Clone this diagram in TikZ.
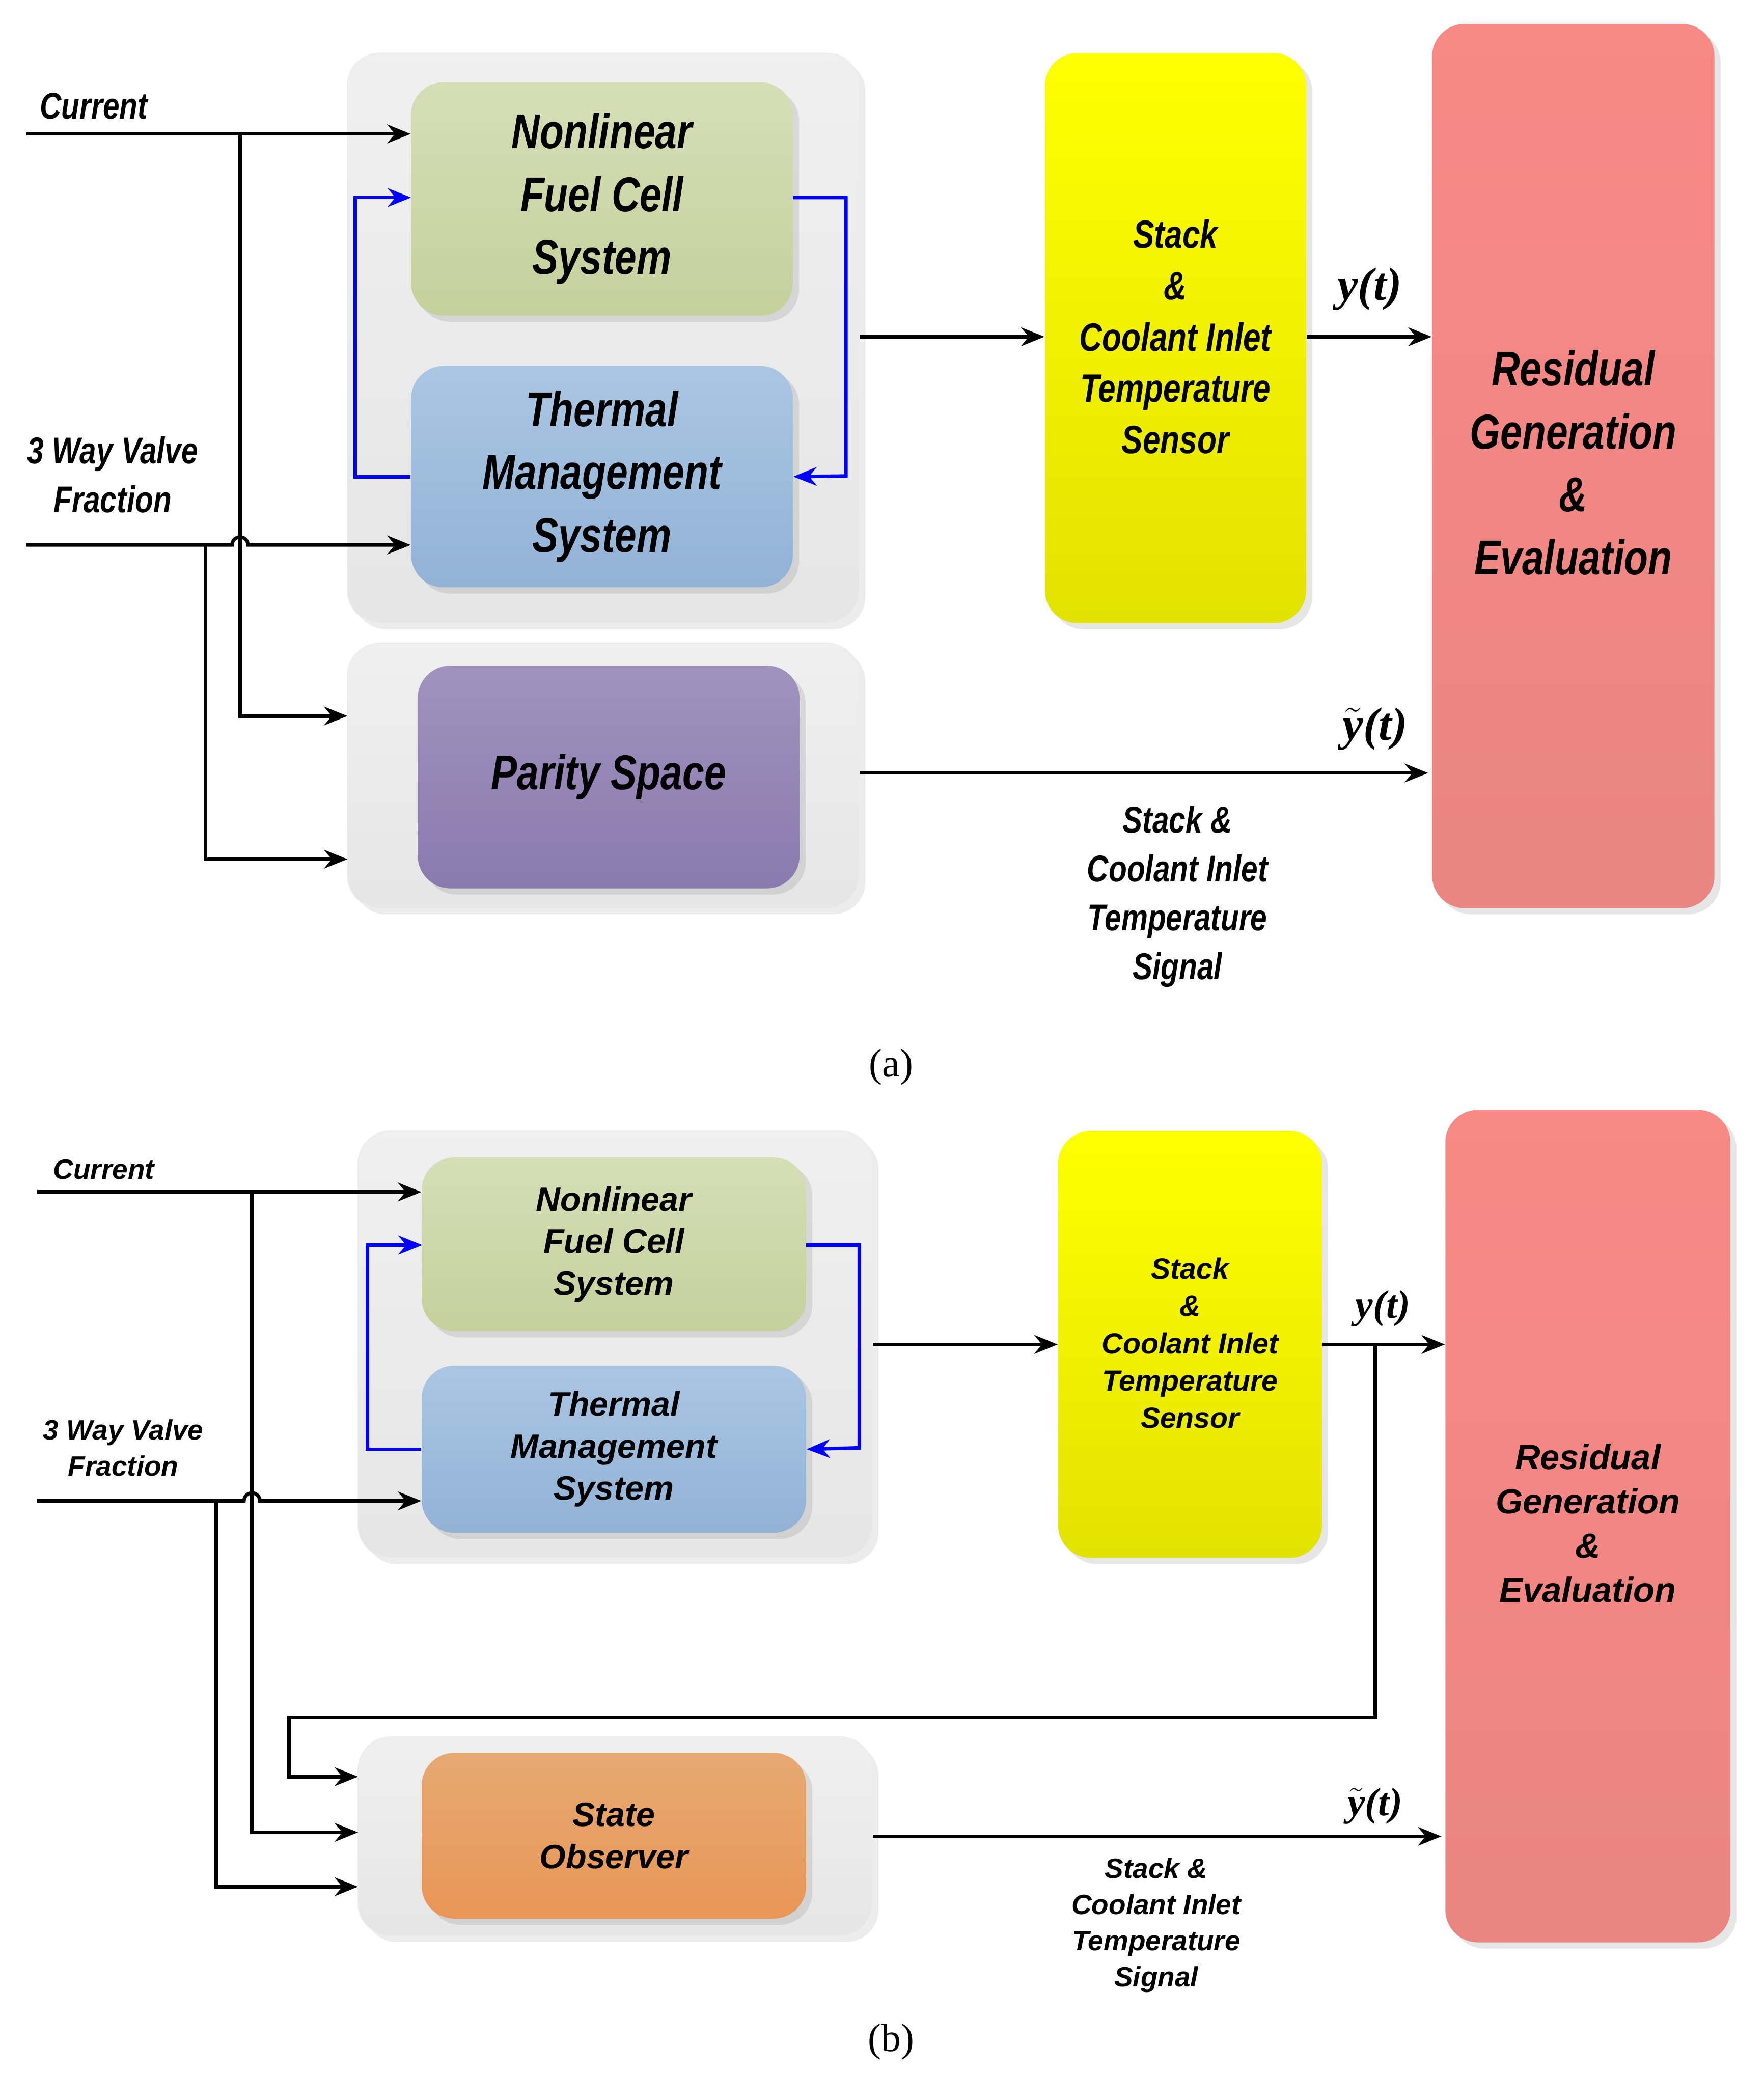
\documentclass[tikz,border=0pt]{standalone}
\usepackage{fontspec}
\setmainfont{Liberation Sans}
\newfontfamily\cond{Liberation Sans}[FakeStretch=0.8]
\newfontfamily\serifcap{Liberation Serif}
\usetikzlibrary{arrows.meta,shadows}
\definecolor{gT}{HTML}{D6DEB6}\definecolor{gB}{HTML}{C5D09C}
\definecolor{bT}{HTML}{AAC6E2}\definecolor{bB}{HTML}{92B2D6}
\definecolor{pT}{HTML}{A192BE}\definecolor{pB}{HTML}{8B7AAD}
\definecolor{oT}{HTML}{E6A972}\definecolor{oB}{HTML}{E99656}
\definecolor{rT}{HTML}{F88985}\definecolor{rB}{HTML}{EA8582}
\definecolor{yT}{HTML}{FFFF00}\definecolor{yB}{HTML}{E2E200}
\begin{document}
\begin{tikzpicture}[x=0.02cm,y=-0.02cm,
  cont/.style={rounded corners=14pt,draw=gray!15,top color=gray!12,bottom color=gray!20,drop shadow={opacity=0.15}},
  blk/.style={rounded corners=14pt,align=center,drop shadow={opacity=0.2}},
  ta/.style={font=\cond\bfseries\itshape\fontsize{21}{27}\selectfont},
  tb/.style={font=\bfseries\itshape\fontsize{14.5}{18}\selectfont},
  la/.style={font=\cond\bfseries\itshape\fontsize{16}{21}\selectfont,align=center},
  lb/.style={font=\bfseries\itshape\fontsize{12}{15.5}\selectfont,align=center},
  ar/.style={-{Stealth[length=10pt,width=8pt]},line width=1.5pt},
  bl/.style={-{Stealth[length=10pt,width=8pt]},line width=1.5pt,blue}]
\useasboundingbox (0,0) rectangle (1330,1565);
% ---------- panel a
\node[cont,minimum width=7.72cm,minimum height=8.6cm] (c1a) at (455,255) {};
\node[cont,minimum width=7.72cm,minimum height=4cm] (c2a) at (455,585) {};
\node[blk,ta,top color=gT,bottom color=gB,minimum width=5.76cm,minimum height=3.52cm] (nfca) at (454,150) {Nonlinear\\Fuel Cell\\System};
\node[blk,ta,top color=bT,bottom color=bB,minimum width=5.76cm,minimum height=3.34cm] (tmsa) at (454,359.5) {Thermal\\Management\\System};
\node[blk,ta,top color=pT,bottom color=pB,minimum width=5.76cm,minimum height=3.36cm] (psa) at (459,586) {Parity Space};
\node[blk,top color=yT,bottom color=yB,minimum width=3.94cm,minimum height=8.6cm] (ya) at (886.5,255) {};
\node[la,font=\cond\bfseries\itshape\fontsize{17}{22}\selectfont] (yat) at (886.5,254) {Stack\\\&\\Coolant Inlet\\Temperature\\Sensor};
\node[blk,top color=rT,bottom color=rB,minimum width=4.26cm,minimum height=13.34cm] (ra) at (1186.5,351.5) {};
\node[ta,align=center] (rat) at (1186.5,349) {Residual\\Generation\\\&\\Evaluation};
\coordinate (ca) at (20,101);
\coordinate (va) at (20,411);
\node[la,anchor=west] (curla) at (24,80) {Current};
\node[la] (vla) at (85,358) {3 Way Valve\\Fraction};
\draw[ar] (ca) -- (ca -| nfca.west);
\draw[ar] (181,101) -- (181,540) -- (262,540);
\draw[ar] (va) -- (175,411) arc (180:360:6) -- (va -| tmsa.west);
\draw[ar] (155,411) -- (155,648) -- (262,648);
\draw[bl] (598,149) -- (638,149) -- (638,359) -- (tmsa.east);
\draw[bl] (tmsa.west) -- (268,359.5) -- (268,149) -- (310,149);
\draw[ar] (c1a.east |- 0,254) -- (ya.west |- 0,254);
\draw[ar] (ya.east |- 0,254) -- (ra.west |- 0,254);
\node[font=\serifcap\bfseries\itshape\fontsize{20}{24}\selectfont] (yta) at (1033,218) {y(t)};
\draw[ar] (c2a.east |- 0,583) -- (1077,583);
\node[font=\serifcap\bfseries\itshape\fontsize{20}{24}\selectfont] (ytta) at (1037,550) {$\tilde{\mbox{y}}$(t)};
\node[la] (siga) at (888,676) {Stack \&\\Coolant Inlet\\Temperature\\Signal};
\node[font=\serifcap\fontsize{17}{20}\selectfont] (capa) at (672,805) {(a)};
% ---------- panel b
\node[cont,minimum width=7.76cm,minimum height=6.44cm] (c1b) at (464,1014) {};
\node[cont,minimum width=7.76cm,minimum height=3cm] (c2b) at (464,1385) {};
\node[blk,tb,top color=gT,bottom color=gB,minimum width=5.8cm,minimum height=2.62cm] (nfcb) at (463,938.5) {Nonlinear\\Fuel Cell\\System};
\node[blk,tb,top color=bT,bottom color=bB,minimum width=5.8cm,minimum height=2.52cm] (tmsb) at (463,1093) {Thermal\\Management\\System};
\node[blk,tb,top color=oT,bottom color=oB,minimum width=5.8cm,minimum height=2.5cm] (sob) at (463,1384.5) {State\\Observer};
\node[blk,top color=yT,bottom color=yB,minimum width=3.98cm,minimum height=6.44cm] (yb) at (897.5,1014) {};
\node[lb,font=\bfseries\itshape\fontsize{12.5}{16}\selectfont] (ybt) at (897.5,1013) {Stack\\\&\\Coolant Inlet\\Temperature\\Sensor};
\node[blk,top color=rT,bottom color=rB,minimum width=4.3cm,minimum height=12.56cm] (rb) at (1197.5,1151) {};
\node[tb,align=center,font=\bfseries\itshape\fontsize{15}{19}\selectfont] (rbt) at (1197.5,1149) {Residual\\Generation\\\&\\Evaluation};
\coordinate (cb) at (28,899);
\coordinate (vb) at (28,1132);
\node[lb,anchor=west] (curlb) at (34,882) {Current};
\node[lb] (vlb) at (93,1092) {3 Way Valve\\Fraction};
\draw[ar] (cb) -- (cb -| nfcb.west);
\draw[ar] (190,899) -- (190,1382) -- (270,1382);
\draw[ar] (vb) -- (184,1132) arc (180:360:6) -- (vb -| tmsb.west);
\draw[ar] (163,1132) -- (163,1423) -- (270,1423);
\draw[bl] (608,939) -- (648,939) -- (648,1092) -- (tmsb.east);
\draw[bl] (tmsb.west) -- (277,1093) -- (277,939) -- (318,939);
\draw[ar] (c1b.east |- 0,1014) -- (yb.west |- 0,1014);
\draw[ar] (yb.east |- 0,1014) -- (rb.west |- 0,1014);
\draw[ar] (1037,1014) -- (1037,1295) -- (218,1295) -- (218,1340) -- (270,1340);
\node[font=\serifcap\bfseries\itshape\fontsize{17}{20}\selectfont] (ytb) at (1043,987) {y(t)};
\draw[ar] (c2b.east |- 0,1385) -- (1087,1385);
\node[font=\serifcap\bfseries\itshape\fontsize{17}{20}\selectfont] (yttb) at (1037,1362) {$\tilde{\mbox{y}}$(t)};
\node[lb] (sigb) at (872,1452) {Stack \&\\Coolant Inlet\\Temperature\\Signal};
\node[font=\serifcap\fontsize{17}{20}\selectfont] (capb) at (672,1540) {(b)};
\end{tikzpicture}
\end{document}
